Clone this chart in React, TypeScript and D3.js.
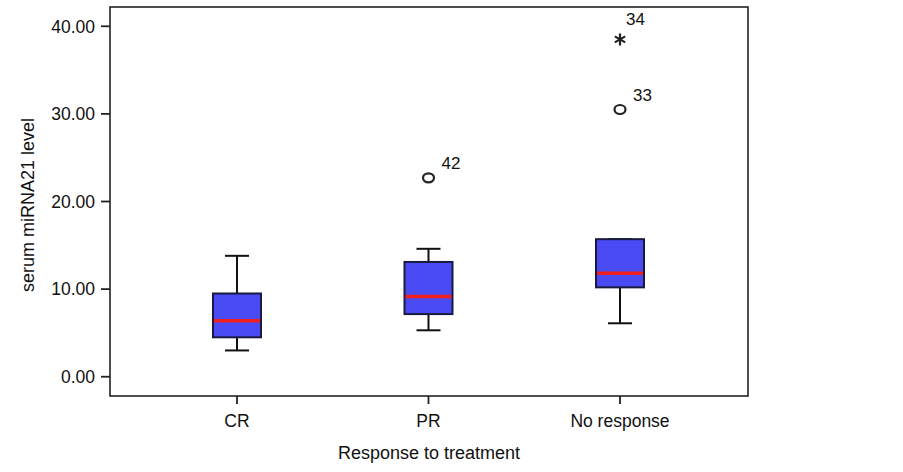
import React from 'react';
import * as d3 from 'd3';

// groups and box statistics
const categories = ['CR', 'PR', 'No response'];
const q1 = [4.5, 7.15, 10.2];
const medians = [6.4, 9.15, 11.8];
const q3 = [9.5, 13.1, 15.7];
const whiskerLow = [3.0, 5.3, 6.1];
const whiskerHigh = [13.8, 14.6, 15.7];

// outliers: circles (mild) and stars (extreme)
const outlierGroup = ['PR', 'No response', 'No response'];
const outlierValue = [22.7, 30.5, 38.5];
const outlierKind = ['circle', 'circle', 'star'];
const outlierLabel = ['42', '33', '34'];

const yTicks = [0, 10, 20, 30, 40];

const W = 903;
const H = 472;
const frame = { left: 110, right: 748, top: 7, bottom: 396 };
const font = 'Liberation Sans, Arial, sans-serif';

export default function App() {
  const x = d3.scalePoint<string>()
    .domain(categories)
    .range([237, 620]);

  const y = d3.scaleLinear()
    .domain([-2.2, 42.2])
    .range([frame.bottom, frame.top]);

  const boxW = 48;
  const capW = 24;
  const fill = '#4a4af4';
  const edge = '#1a1a40';

  // asterisk marker for extreme values
  const starPath = (cx: number, cy: number, r: number) => {
    const p = d3.path();
    for (let k = 0; k < 3; k++) {
      const a = (Math.PI / 3) * k + Math.PI / 2;
      p.moveTo(cx + r * Math.cos(a), cy - r * Math.sin(a));
      p.lineTo(cx - r * Math.cos(a), cy + r * Math.sin(a));
    }
    return p.toString();
  };

  return (
    <svg width={W} height={H} style={{ position: 'absolute', left: 0, top: 0, background: '#fff' }}>
      {/* frame */}
      <rect
        x={frame.left}
        y={frame.top}
        width={frame.right - frame.left}
        height={frame.bottom - frame.top}
        fill="none"
        stroke="#222"
        strokeWidth={1.6}
      />

      {/* y axis ticks */}
      {yTicks.map(t => (
        <g key={t}>
          <line x1={frame.left - 9} x2={frame.left} y1={y(t)} y2={y(t)} stroke="#222" strokeWidth={1.8} />
          <text
            x={frame.left - 15}
            y={y(t)}
            dy="0.36em"
            textAnchor="end"
            fontFamily={font}
            fontSize={17.5}
            fill="#111"
          >
            {t.toFixed(2)}
          </text>
        </g>
      ))}

      {/* x axis ticks */}
      {categories.map(c => (
        <g key={c}>
          <line x1={x(c)} x2={x(c)} y1={frame.bottom} y2={frame.bottom + 8} stroke="#222" strokeWidth={1.8} />
          <text
            x={x(c)}
            y={frame.bottom + 31}
            textAnchor="middle"
            fontFamily={font}
            fontSize={17.5}
            fill="#111"
          >
            {c}
          </text>
        </g>
      ))}

      {/* axis titles */}
      <text
        x={429}
        y={459}
        textAnchor="middle"
        fontFamily={font}
        fontSize={18}
        fill="#111"
      >
        Response to treatment
      </text>
      <text
        transform={`translate(34, 205) rotate(-90)`}
        textAnchor="middle"
        fontFamily={font}
        fontSize={18}
        fill="#111"
      >
        serum miRNA21 level
      </text>

      {/* boxes */}
      {categories.map((c, i) => {
        const cx = x(c) || 0;
        return (
          <g key={c}>
            <line x1={cx} x2={cx} y1={y(q3[i])} y2={y(whiskerHigh[i])} stroke="#111" strokeWidth={2} />
            <line x1={cx} x2={cx} y1={y(q1[i])} y2={y(whiskerLow[i])} stroke="#111" strokeWidth={2} />
            <line x1={cx - capW / 2} x2={cx + capW / 2} y1={y(whiskerHigh[i])} y2={y(whiskerHigh[i])} stroke="#111" strokeWidth={2} />
            <line x1={cx - capW / 2} x2={cx + capW / 2} y1={y(whiskerLow[i])} y2={y(whiskerLow[i])} stroke="#111" strokeWidth={2} />
            <rect
              x={cx - boxW / 2}
              y={y(q3[i])}
              width={boxW}
              height={y(q1[i]) - y(q3[i])}
              fill={fill}
              stroke={edge}
              strokeWidth={2}
            />
            <line
              x1={cx - boxW / 2 + 1}
              x2={cx + boxW / 2 - 1}
              y1={y(medians[i])}
              y2={y(medians[i])}
              stroke="#f02020"
              strokeWidth={3.5}
            />
          </g>
        );
      })}

      {/* outliers */}
      {outlierValue.map((v, i) => {
        const cx = x(outlierGroup[i]) || 0;
        const cy = y(v);
        const isCircle = outlierKind[i] === 'circle';
        return (
          <g key={i}>
            {isCircle ? (
              <ellipse cx={cx} cy={cy} rx={5.5} ry={4.5} fill="none" stroke="#222" strokeWidth={2.2} />
            ) : (
              <path d={starPath(cx, cy, 6)} stroke="#222" strokeWidth={2.2} fill="none" />
            )}
            <text
              x={cx + (isCircle ? 13 : 6)}
              y={cy - (isCircle ? 9 : 14)}
              fontFamily={font}
              fontSize={17}
              fill="#111"
            >
              {outlierLabel[i]}
            </text>
          </g>
        );
      })}
    </svg>
  );
}
